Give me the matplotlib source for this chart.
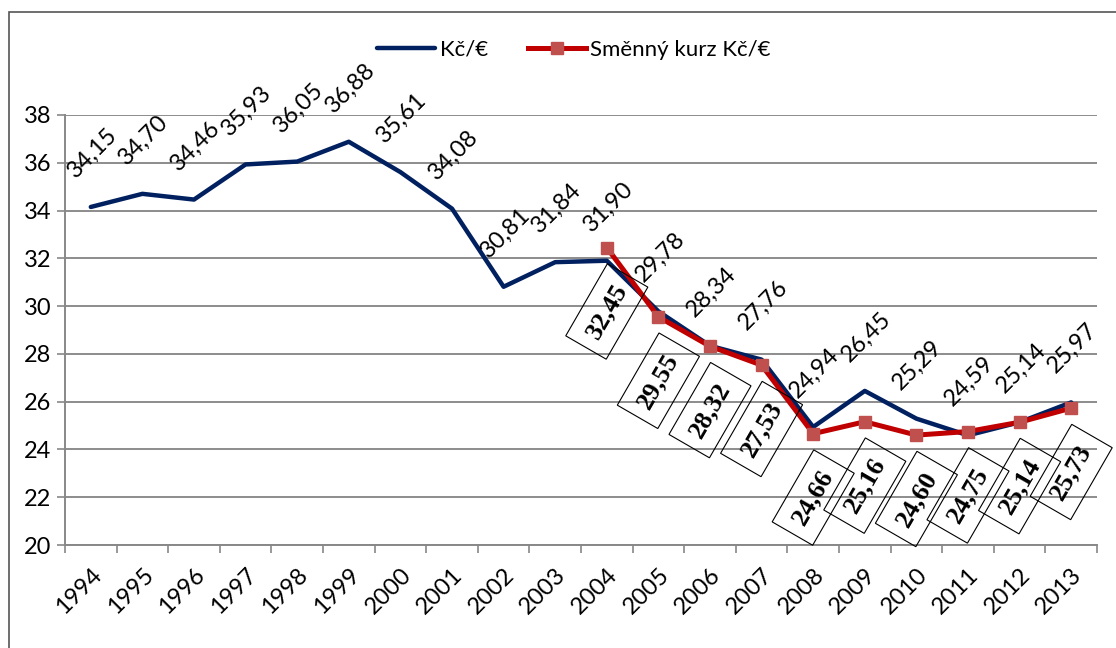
import matplotlib.pyplot as plt
import matplotlib.patches as patches
import numpy as np

# data
roky = ['1994', '1995', '1996', '1997', '1998', '1999', '2000', '2001', '2002', '2003',
        '2004', '2005', '2006', '2007', '2008', '2009', '2010', '2011', '2012', '2013']
kurz = [34.15, 34.70, 34.46, 35.93, 36.05, 36.88, 35.61, 34.08, 30.81, 31.84,
        31.90, 29.78, 28.34, 27.76, 24.94, 26.45, 25.29, 24.59, 25.14, 25.97]
smenny_roky = roky[10:]
smenny = [32.45, 29.55, 28.32, 27.53, 24.66, 25.16, 24.60, 24.75, 25.14, 25.73]

plt.rcParams['font.family'] = ['Lato', 'DejaVu Sans']

fig = plt.figure(figsize=(11.16, 6.48), dpi=100)
ax = fig.add_axes([65 / 1116, 1 - 545 / 648, (1097 - 65) / 1116, (545 - 115) / 648])

x = np.arange(len(roky))
x2 = np.arange(10, 10 + len(smenny))

ax.plot(x, kurz, color='#002060', lw=3.2, solid_capstyle='round', label='Kč/€', zorder=3)
ax.plot(x2, smenny, color='#C00000', lw=3.6, marker='s', markersize=9,
        markerfacecolor='#C0504D', markeredgecolor='#C0504D',
        label='Směnný kurz Kč/€', zorder=4)

# popisky modre rady
for xi, v in zip(x, kurz):
    ax.annotate(f'{v:.2f}'.replace('.', ','), (xi, v), xytext=(1, 39),
                textcoords='offset points', rotation=45, ha='center', va='center',
                fontsize=17, zorder=5)

# popisky cervene rady v rameckach
for xi, v in zip(x2, smenny):
    ax.annotate(f'{v:.2f}'.replace('.', ','), (xi, v), xytext=(0, -46),
                textcoords='offset points', rotation=60, ha='center', va='center',
                fontsize=19, fontweight='bold', family='Liberation Serif',
                bbox=dict(boxstyle='square,pad=0.45', fc='none', ec='black', lw=0.8),
                zorder=5)

ax.set_xlim(-0.5, len(roky) - 0.5)
ax.set_ylim(20, 38)
ax.set_yticks(np.arange(20, 39, 2))
ax.set_xticks(x)
ax.set_xticklabels(roky, rotation=45, ha='right', va='top', rotation_mode='anchor')
ax.set_xticks(np.arange(-0.5, len(roky), 1), minor=True)
ax.tick_params(axis='x', which='major', length=0, labelsize=17, pad=14)
ax.tick_params(axis='x', which='minor', length=6, width=1.2, color='#888888', direction='out')
ax.tick_params(axis='y', length=6, width=1.2, color='#888888', labelsize=17, pad=4)

ax.grid(axis='y', color='#8c8c8c', lw=1.4)
ax.set_axisbelow(True)
for s in ['top', 'right']:
    ax.spines[s].set_visible(False)
ax.spines['left'].set_color('#888888')
ax.spines['left'].set_linewidth(1.4)
ax.spines['bottom'].set_color('#888888')
ax.spines['bottom'].set_linewidth(1.4)

fig.legend(loc='center', bbox_to_anchor=(574 / 1116, 1 - 50 / 648), ncol=2, frameon=False,
           fontsize=16, handlelength=2.6, columnspacing=1.8, handletextpad=0.2)

# ramecek kolem grafu
fig.patches.append(patches.Rectangle((9 / 1116, -0.01), 1.2, 1 - 12 / 648 + 0.01,
                                     transform=fig.transFigure, fill=False,
                                     ec='#555555', lw=1.2))

fig.savefig('out.png', dpi=100)
